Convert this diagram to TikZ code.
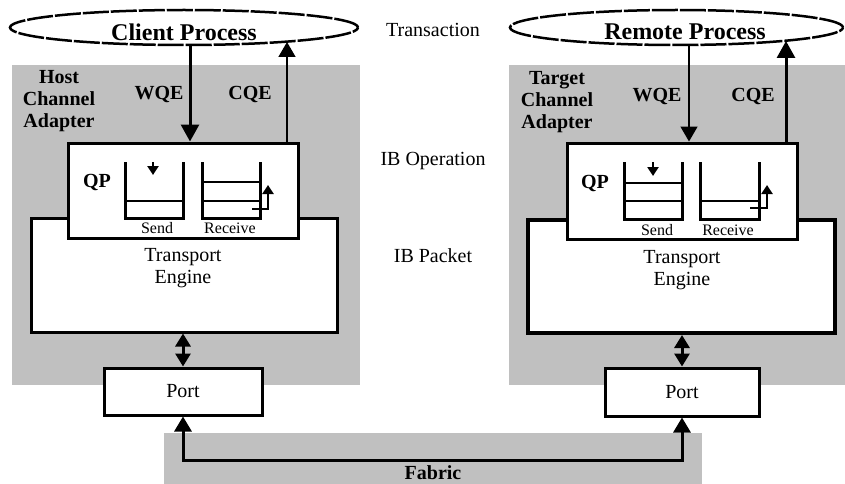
\documentclass[tikz,border=0pt]{standalone}
\usepackage{fontspec}
\setmainfont{Liberation Serif}
\usetikzlibrary{shapes.geometric,arrows.meta}
\definecolor{panel}{RGB}{192,192,192}
\begin{document}
\begin{tikzpicture}[x=1pt,y=-1pt,
  panelbox/.style={rectangle, fill=panel, draw=none, inner sep=0pt, outer sep=0pt},
  blk/.style={rectangle, draw=black, fill=white, line width=#1, inner sep=0pt},
  blk/.default=3pt,
  proc/.style={ellipse, draw=black, line width=2.5pt, dash pattern=on 26pt off 2pt, fill=white, inner sep=0pt},
  lbl/.style={font=\fontsize{20}{22}\selectfont, inner sep=0pt, align=center},
  blbl/.style={font=\fontsize{20}{22}\selectfont\bfseries, inner sep=0pt, align=center},
  smalllbl/.style={font=\fontsize{16}{18}\selectfont, inner sep=0pt},
  proclbl/.style={font=\fontsize{24}{26}\selectfont\bfseries, inner sep=0pt},
  thickarrow/.style={line width=3pt, -{Triangle[length=17pt,width=18pt]}},
  thinarrow/.style={line width=1.5pt, -{Triangle[length=15pt,width=17pt]}},
  dblarrow/.style={line width=3pt, {Triangle[length=13pt,width=15pt]}-{Triangle[length=13pt,width=15pt]}},
  fabarrow/.style={line width=3pt, {Triangle[length=15pt,width=17pt]}-{Triangle[length=15pt,width=17pt]}},
  queue/.style={line width=3pt},
  qline/.style={line width=2pt},
  qarrow/.style={line width=2.5pt, -{Triangle[length=9pt,width=11pt]}}
]
\useasboundingbox (0,0) rectangle (845,484);

% gray panels
\node[panelbox, minimum width=348pt, minimum height=320pt] (hca) at (186,225) {};
\node[panelbox, minimum width=336pt, minimum height=320pt] (tca) at (677,225) {};
\node[panelbox, minimum width=538pt, minimum height=51pt] (fab) at (433,458.5) {};

% ellipses
\node[proc, minimum width=348pt, minimum height=35pt] (client) at (184,27.5) {};
\node[proc, minimum width=333pt, minimum height=35pt] (remote) at (676.5,27.5) {};
\node[proclbl] (clientt) at (184,32) {Client Process};
\node[proclbl] (remotet) at (685,32) {Remote Process};

% transport engines
\node[blk, minimum width=306pt, minimum height=114pt] (teL) at (184,275) {};
\node[blk=4pt, minimum width=307pt, minimum height=113pt] (teR) at (681.5,276.5) {};
\node[lbl] (teLt) at (183,268) {Transport\\Engine};
\node[lbl] (teRt) at (682,270) {Transport\\Engine};

% QP boxes
\node[blk, minimum width=230pt, minimum height=95pt] (qpL) at (183,190.5) {};
\node[blk, minimum width=230pt, minimum height=96pt] (qpR) at (682,191) {};
\node[blbl] (qpLt) at (97,182) {QP};
\node[blbl] (qpRt) at (595,183) {QP};

% ports
\node[blk, minimum width=158pt, minimum height=47pt, lbl] (portL) at (183,391.5) {Port};
\node[blk, minimum width=154pt, minimum height=48pt, lbl] (portR) at (682,392) {Port};

% side labels
\node[blbl] (hcat) at (59,101) {Host\\Channel\\Adapter};
\node[blbl] (tcat) at (557,102) {Target\\Channel\\Adapter};
\node[blbl] (wqeL) at (159,95) {WQE};
\node[blbl] (cqeL) at (250,95) {CQE};
\node[blbl] (wqeR) at (657,97) {WQE};
\node[blbl] (cqeR) at (753,97) {CQE};

% middle labels
\node[lbl] (trans) at (433,30) {Transaction};
\node[lbl] (ibop) at (433,161) {IB Operation};
\node[lbl] (ibpk) at (433,256) {IB Packet};
\node[blbl] (fabt) at (433,473) {Fabric};

% WQE / CQE arrows
\coordinate (wLtop) at (190,45);
\coordinate (cLtop) at (287,42);
\coordinate (wRtop) at (689,45);
\coordinate (cRtop) at (786,41);
\draw[thickarrow] (wLtop) -- (qpL.north -| wLtop);
\draw[thinarrow] (qpL.north -| cLtop) -- (cLtop);
\draw[thinarrow] (wRtop) -- (qpR.north -| wRtop);
\draw[thickarrow] (qpR.north -| cRtop) -- (cRtop);

% engine <-> port
\draw[dblarrow] (portL.north |- teL.south) -- (portL.north);
\draw[dblarrow] (portR.north |- teR.south) -- (portR.north);

% fabric
\coordinate (fabline) at (433,460);
\draw[fabarrow] (portL.south) |- (fabline) -| (portR.south);

% left queues
\draw[queue] (125,162) -- (125,218) -- (183,218) -- (183,162);
\draw[qline] (125,201) -- (183,201);
\draw[qarrow] (153,162) -- (153,175);
\draw[queue] (202,162) -- (202,218) -- (260,218) -- (260,162);
\draw[qline] (202,182) -- (260,182);
\draw[qline] (202,201) -- (260,201);
\draw[qarrow] (252,209) -- (268,209) -- (268,185);
\node[smalllbl] (sendL) at (157,228) {Send};
\node[smalllbl] (recvL) at (230,228) {Receive};

% right queues
\draw[queue] (624,162) -- (624,219) -- (682,219) -- (682,162);
\draw[qline] (624,183) -- (682,183);
\draw[qline] (624,201) -- (682,201);
\draw[qarrow] (653,162) -- (653,176);
\draw[queue] (700,162) -- (700,219) -- (759,219) -- (759,162);
\draw[qline] (700,201) -- (759,201);
\draw[qarrow] (750,208) -- (767,208) -- (767,185);
\node[smalllbl] (sendR) at (657,230) {Send};
\node[smalllbl] (recvR) at (728,230) {Receive};
\end{tikzpicture}
\end{document}
